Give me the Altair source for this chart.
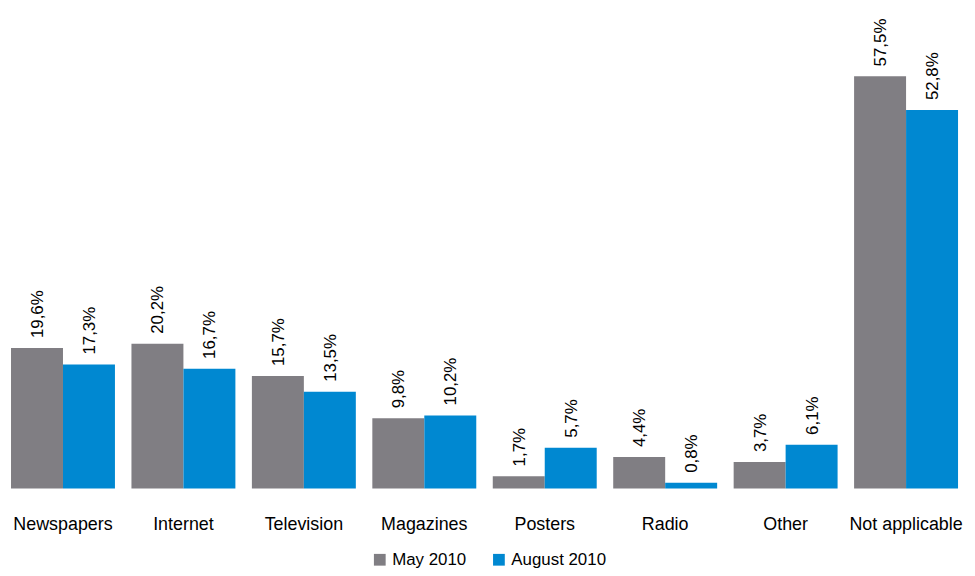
import altair as alt
import pandas as pd

categories = ["Newspapers", "Internet", "Television", "Magazines", "Posters", "Radio", "Other", "Not applicable"]
series = ["May 2010", "August 2010"]
may_2010 = [19.6, 20.2, 15.7, 9.8, 1.7, 4.4, 3.7, 57.5]
aug_2010 = [17.3, 16.7, 13.5, 10.2, 5.7, 0.8, 6.1, 52.8]
colors = ["#807e83", "#0088d1"]

rows = []
for c, a, b in zip(categories, may_2010, aug_2010):
    for s, v in zip(series, [a, b]):
        rows.append({"cat": c, "series": s, "value": v,
                     "label": f"{v:.1f}".replace(".", ",") + "%"})
df = pd.DataFrame(rows)

FONT = "Liberation Sans Narrow, Arial Narrow, Liberation Sans, Arial, sans-serif"

x = alt.X("cat:N", sort=categories, title=None,
          scale=alt.Scale(paddingInner=0.137, paddingOuter=0.025),
          axis=alt.Axis(labelAngle=0, domain=False, ticks=False, labelPadding=27,
                        labelFont=FONT, labelFontSize=18, labelColor="#000000"))
xo = alt.XOffset("series:N", sort=series, scale=alt.Scale(paddingInner=0, paddingOuter=0))
y = alt.Y("value:Q", scale=alt.Scale(domain=[0, 66.75], nice=False), axis=None)

bars = alt.Chart(df).mark_bar().encode(
    x=x, xOffset=xo, y=y,
    color=alt.Color("series:N", sort=series,
                    scale=alt.Scale(domain=series, range=colors),
                    legend=alt.Legend(title=None, orient="none", direction="horizontal",
                                      legendX=366, legendY=545,
                                      symbolType="square", symbolSize=140,
                                      symbolStrokeWidth=0,
                                      labelFont=FONT, labelFontSize=17, labelColor="#000000",
                                      columnPadding=24, labelOffset=4)),
)

text = alt.Chart(df).mark_text(angle=270, align="left", baseline="middle", dx=10, dy=1,
                               font=FONT, fontSize=17, color="#000000").encode(
    x=x, xOffset=xo, y=y, text="label:N"
)

chart = (bars + text).properties(
    width=960, height=482,
    autosize=alt.AutoSizeParams(type="none"),
    padding={"left": 0, "top": 0, "right": 6, "bottom": 78},
).configure_view(stroke=None)

chart.save("out.html", embed_options={"renderer": "svg", "actions": False})
